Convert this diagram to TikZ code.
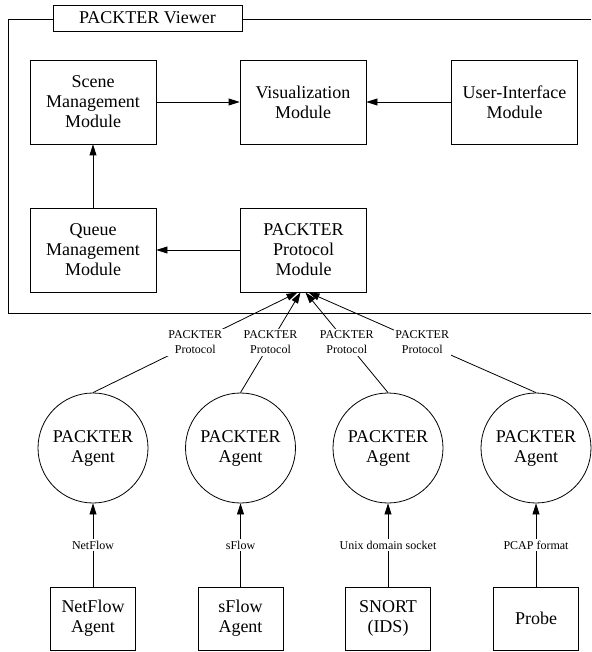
\documentclass[tikz,border=0pt]{standalone}
\usepackage{fontspec}
\setmainfont{Liberation Serif}
\usepackage{tikz}
\usetikzlibrary{arrows.meta,positioning}

\begin{document}
\begin{tikzpicture}[x=1pt,y=-1pt,line width=0.8pt,
    module/.style={draw,align=center,minimum width=126pt,minimum height=84pt,
      font=\fontsize{18}{20}\selectfont},
    agentnode/.style={draw,circle,align=center,minimum size=110pt,inner sep=0pt,
      font=\fontsize{18}{20}\selectfont},
    srcbox/.style={draw,align=center,minimum width=85pt,minimum height=63pt,
      font=\fontsize{18}{20}\selectfont},
    lbl/.style={fill=white,align=center,inner sep=1.5pt,
      font=\fontsize{12}{15}\selectfont},
    arr/.style={-{Triangle[length=11pt,width=7pt]}}]
        \useasboundingbox (0,0) rectangle (591,652);
        % viewer frame
        \draw (591,19) -- (8,19) -- (8,313) -- (591,313);
        \node[draw,fill=white,minimum width=189pt,minimum height=26pt,
          font=\fontsize{18}{20}\selectfont] (viewer) at (147.5,18) {PACKTER Viewer};
        % modules
        \node[module] (scene) at (93,102) {Scene\\Management\\Module};
        \node[module] (vis) at (303,102) {Visualization\\Module};
        \node[module] (ui) at (514.5,102) {User-Interface\\Module};
        \node[module] (queue) at (93,250) {Queue\\Management\\Module};
        \node[module] (proto) at (303.5,250) {PACKTER\\Protocol\\Module};
        \draw[arr] (scene) -- (vis);
        \draw[arr] (ui) -- (vis);
        \draw[arr] (queue) -- (scene);
        \draw[arr] (proto) -- (queue);
        % agents and sources
        \foreach \i/\xx/\src/\proto in {1/93/{NetFlow\\Agent}/NetFlow,
            2/240.5/{sFlow\\Agent}/sFlow,
            3/388/{SNORT\\(IDS)}/Unix domain socket,
            4/536/{Probe}/PCAP format}{
          \node[agentnode] (agent\i) at (\xx,448) {PACKTER\\Agent};
          \node[srcbox] (src\i) at (\xx,618.5) {\src};
          \draw[arr] (src\i) -- node[lbl]{\proto} (agent\i);
        }
        % protocol links
        \coordinate (p1) at ([xshift=-6pt]proto.south);
        \coordinate (p2) at ([xshift=-3pt]proto.south);
        \coordinate (p3) at ([xshift=2pt]proto.south);
        \coordinate (p4) at ([xshift=5pt]proto.south);
        \foreach \i in {1,...,4}
          \draw[arr] (agent\i.north) -- node[lbl]{PACKTER\\Protocol} (p\i);
      \end{tikzpicture}
\end{document}
